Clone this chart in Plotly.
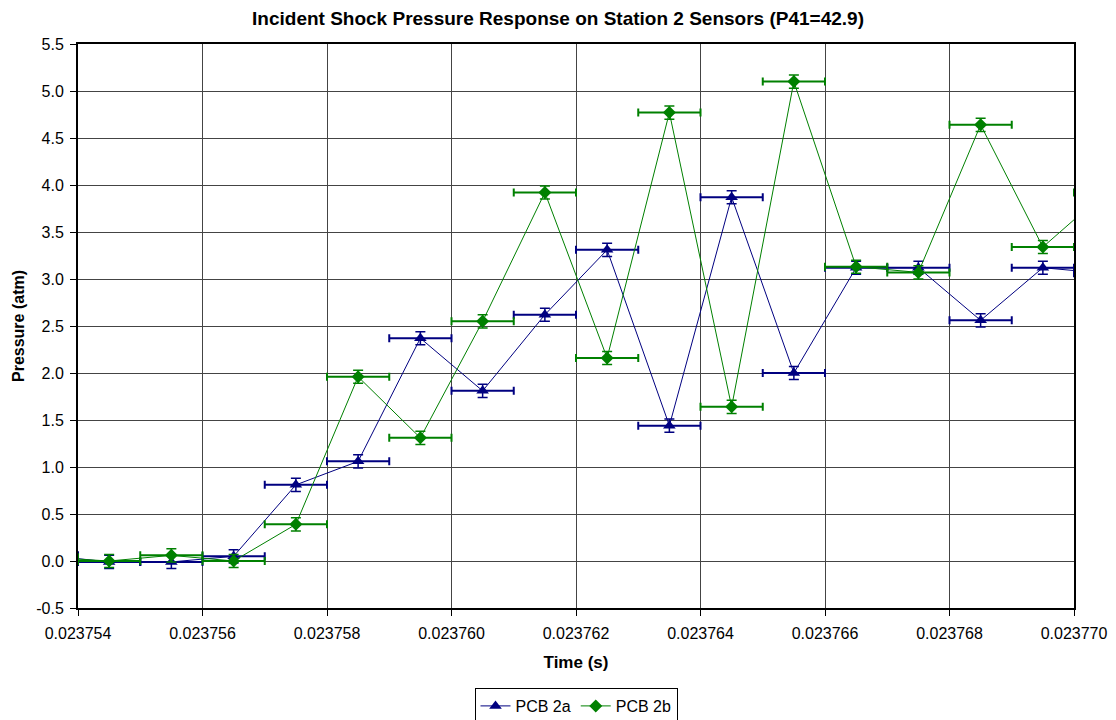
import plotly.graph_objects as go

time_s = [0.0237535, 0.0237545, 0.0237555, 0.0237565, 0.0237575, 0.0237585, 0.0237595,
          0.0237605, 0.0237615, 0.0237625, 0.0237635, 0.0237645, 0.0237655, 0.0237665,
          0.0237675, 0.0237685, 0.0237695, 0.0237705]
pcb_2a = [0.06, -0.01, -0.01, 0.05, 0.81, 1.06, 2.37, 1.81, 2.62, 3.31, 1.44, 3.87, 2.00,
          3.12, 3.12, 2.56, 3.12, 3.06]
pcb_2b = [0.04, 0.00, 0.06, 0.00, 0.39, 1.96, 1.31, 2.55, 3.92, 2.16, 4.77, 1.64, 5.10,
          3.13, 3.07, 4.64, 3.34, 3.92]
y_err = 0.07
x_err = 0.0000005

y_tick_vals = [-0.5, 0.0, 0.5, 1.0, 1.5, 2.0, 2.5, 3.0, 3.5, 4.0, 4.5, 5.0, 5.5]
y_tick_text = ["-0.5", "0.0", "0.5", "1.0", "1.5", "2.0", "2.5", "3.0", "3.5", "4.0",
               "4.5", "5.0", "5.5"]
x_tick_vals = [0.023754, 0.023756, 0.023758, 0.023760, 0.023762, 0.023764, 0.023766,
               0.023768, 0.023770]
x_tick_text = ["0.023754", "0.023756", "0.023758", "0.023760", "0.023762", "0.023764",
               "0.023766", "0.023768", "0.023770"]

series = [
    ("PCB 2a", pcb_2a, "#000080", "triangle-up", 11),
    ("PCB 2b", pcb_2b, "#008000", "diamond", 10),
]

fig = go.Figure()
for name, vals, color, sym, msize in series:
    fig.add_trace(go.Scatter(
        x=time_s, y=vals, name=name, mode="lines+markers",
        line=dict(color=color, width=1),
        marker=dict(symbol=sym, size=msize, color=color),
        error_y=dict(type="constant", value=y_err, color=color, thickness=1.5, width=5),
        error_x=dict(type="constant", value=x_err, color=color, thickness=2, width=4),
    ))

W, H = 1116, 720
font_family = "Liberation Sans, Arial, sans-serif"
fig.update_layout(
    width=W, height=H,
    margin=dict(l=78, r=42, t=44, b=112, autoexpand=False),
    paper_bgcolor="white", plot_bgcolor="white",
    font=dict(family=font_family, size=16, color="black"),
    title=dict(text="<b>Incident Shock Pressure Response on Station 2 Sensors (P41=42.9)</b>",
               x=0.5, xanchor="center", xref="container", yref="container",
               y=1 - 12 / H, yanchor="top",
               font=dict(size=19, family=font_family)),
    showlegend=True,
    legend=dict(orientation="h", x=0.5, xanchor="center", xref="paper",
                y=1 - 688 / H, yref="container", yanchor="top",
                bordercolor="black", borderwidth=1, font=dict(size=16),
                itemwidth=30, tracegroupgap=0),
    xaxis=dict(range=[0.023754, 0.023770], tickmode="array",
               tickvals=x_tick_vals, ticktext=x_tick_text,
               showgrid=True, gridcolor="#444", gridwidth=1,
               showline=True, linecolor="black", linewidth=2, mirror=True,
               ticks="outside", ticklen=6, tickcolor="black", zeroline=False,
               automargin=False, ticklabelstandoff=4,
               title=dict(text="<b>Time (s)</b>", font=dict(size=17), standoff=15),
               tickfont=dict(size=16)),
    yaxis=dict(range=[-0.5, 5.5], tickmode="array",
               tickvals=y_tick_vals, ticktext=y_tick_text,
               showgrid=True, gridcolor="#444", gridwidth=1,
               showline=True, linecolor="black", linewidth=2, mirror=True,
               ticks="outside", ticklen=6, tickcolor="black", zeroline=False,
               automargin=False, ticklabelstandoff=3,
               title=dict(text="<b>Pressure (atm)</b>", font=dict(size=16), standoff=8),
               tickfont=dict(size=16)),
)

fig.write_html("out.html",
               config={"displayModeBar": False},
               post_script="document.body.style.margin='0';document.body.style.overflow='hidden';")
